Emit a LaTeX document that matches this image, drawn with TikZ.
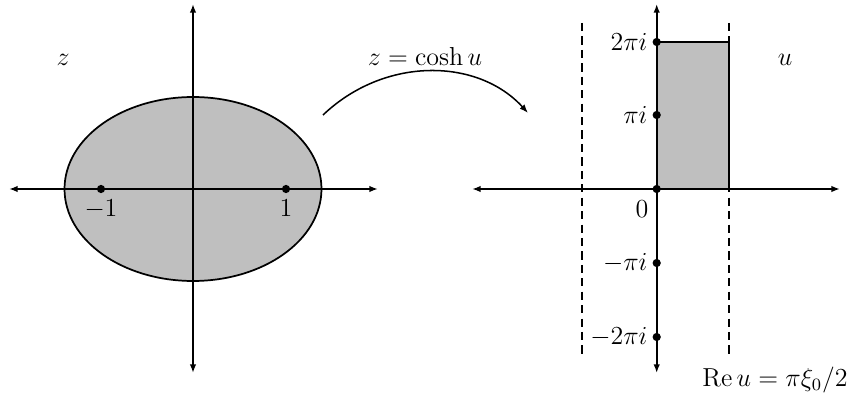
\documentclass[tikz,border=0pt]{standalone}
\usetikzlibrary{arrows.meta}
\begin{document}
\begin{tikzpicture}[x=0.016216cm,y=-0.016216cm,
  every node/.style={font=\large},
  axis/.style={line width=0.75pt,{Latex[length=4pt,width=3pt]}-{Latex[length=4pt,width=3pt]}},
  dotpt/.style={circle,fill=black,inner sep=0pt,minimum size=3.8pt},
  region/.style={fill=gray!50,draw=black,line width=0.8pt},
  dashline/.style={line width=0.7pt,dash pattern=on 3.8pt off 2.4pt}]
\useasboundingbox (0,0) rectangle (849,394);
% ---- z plane ----
\coordinate (zc) at (193,189);
\coordinate (zl) at (9,189);
\coordinate (zr) at (378,189);
\coordinate (zt) at (193,4);
\coordinate (zb) at (193,373);
\filldraw[region] (zc) ellipse [x radius=2.084cm, y radius=1.492cm];
\draw[axis] (zl) -- (zr);
\draw[axis] (zb) -- (zt);
\node[dotpt] (m1) at (101,189) {};
\node[dotpt] (p1) at (286,189) {};
\node (lm1) at (101,209) {$-1$};
\node (lp1) at (286,208) {$1$};
\node (zlab) at (63,60) {$z$};
% ---- mapping arrow ----
\coordinate (a1) at (323,115);
\coordinate (a2) at (528,113);
\draw[line width=0.7pt,-{Latex[length=4pt,width=3pt]}] (a1) .. controls (385,56) and (478,58) .. (a2);
\node (map) at (425,56) {$z=\cosh u$};
% ---- u plane ----
\coordinate (uo) at (656.7,189);
\coordinate (ul) at (472,189);
\coordinate (ur) at (840,189);
\coordinate (ut) at (656.7,4);
\coordinate (ub) at (656.7,373);
\coordinate (rtr) at (729,42);
\coordinate (dlt) at (582,23);
\coordinate (dlb) at (582,355);
\coordinate (drt) at (729,23);
\coordinate (drb) at (729,355);
\fill[fill=gray!50] (uo) rectangle (rtr);
\draw[axis] (ul) -- (ur);
\draw[axis] (ub) -- (ut);
\draw[line width=1pt] (uo) -- (656.7,42) -- (rtr) -- (729,189) -- cycle;
\draw[dashline] (dlt) -- (dlb);
\draw[dashline] (drt) -- (drb);
\node[dotpt] (u2) at (656.7,42) {};
\node[dotpt] (u1) at (656.7,115) {};
\node[dotpt] (u0) at (uo) {};
\node[dotpt] (um1) at (656.7,263) {};
\node[dotpt] (um2) at (656.7,337) {};
\node[anchor=east,inner sep=2pt] (l2) at (u2.west) {$2\pi i$};
\node[anchor=east,inner sep=2pt] (l1) at (u1.west) {$\pi i$};
\node (l0) at (642,209) {$0$};
\node[anchor=east,inner sep=2pt] (lm1u) at (um1.west) {$-\pi i$};
\node[anchor=east,inner sep=2pt] (lm2u) at (um2.west) {$-2\pi i$};
\node (ulab) at (785,60) {$u$};
\node (re) at (775,380) {$\mathrm{Re}\,u=\pi\xi_0/2$};
\end{tikzpicture}
\end{document}
